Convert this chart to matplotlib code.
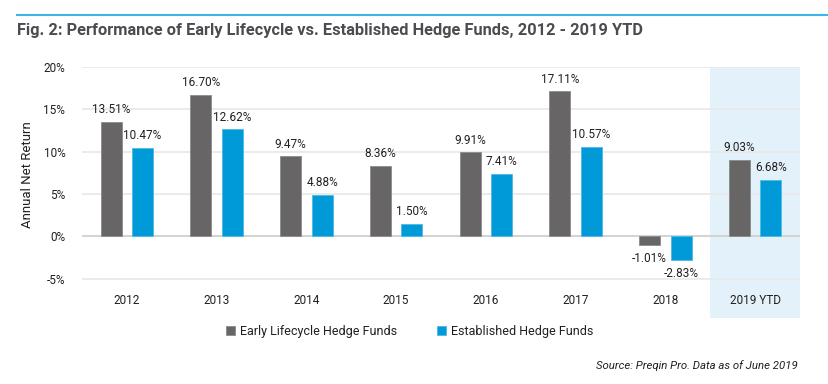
import matplotlib
matplotlib.use("Agg")
import matplotlib.pyplot as plt
import matplotlib.transforms as mtransforms
from matplotlib.patches import Rectangle
import numpy as np

plt.rcParams['font.family'] = ['Roboto', 'DejaVu Sans']

categories = ["2012", "2013", "2014", "2015", "2016", "2017", "2018", "2019 YTD"]
early = [13.51, 16.70, 9.47, 8.36, 9.91, 17.11, -1.01, 9.03]
established = [10.47, 12.62, 4.88, 1.50, 7.41, 10.57, -2.83, 6.68]
series_names = ["Early Lifecycle Hedge Funds", "Established Hedge Funds"]
yticks = [-5, 0, 5, 10, 15, 20]
title = "Fig. 2: Performance of Early Lifecycle vs. Established Hedge Funds, 2012 - 2019 YTD"
ylabel = "Annual Net Return"
source = "Source: Preqin Pro. Data as of June 2019"

GRAY = "#676566"
BLUE = "#009ad9"
TEXT = "#231f20"

fig = plt.figure(figsize=(8.29, 3.84), dpi=100)
W, H = 829, 384

# top rule and title
fig.add_artist(plt.Line2D([17 / W, 1.0], [1 - 15 / H, 1 - 15 / H], color="#3cb6e8", lw=1.5))
fig.text(17 / W, 1 - 31 / H, title, fontsize=11.8, fontweight="bold", color="#4a4c50",
         va="center", ha="left")

ax = fig.add_axes([82 / W, 1 - 282 / H, (800 - 82) / W, (282 - 67) / H])
x = np.arange(len(categories))
w = 0.235
off = 0.175
b1 = ax.bar(x - off, early, w, color=GRAY, edgecolor="#8c8a8b", linewidth=0.6, label=series_names[0], zorder=3)
b2 = ax.bar(x + off, established, w, color=BLUE, edgecolor="#4fb9e6", linewidth=0.6, label=series_names[1], zorder=3)

ax.set_xlim(-0.5, len(categories) - 0.5)
ax.set_ylim(-5.4, 20)
ax.set_yticks(yticks)
ax.set_yticklabels([f"{t}%" for t in yticks])
ax.set_xticks(x)
ax.set_xticklabels(categories)
ax.tick_params(axis="both", length=0, labelsize=8.5, labelcolor=TEXT)
ax.tick_params(axis="x", pad=9)
ax.tick_params(axis="y", pad=12)
for s in ax.spines.values():
    s.set_visible(False)
ax.yaxis.grid(True, color="#e8e8e8", lw=1.2, zorder=0)
ax.axhline(0, color="#d4d4d4", lw=1.5, zorder=2)
ax.set_ylabel(ylabel, fontsize=9.5, color=TEXT, labelpad=7)

# highlight last category
trans = mtransforms.blended_transform_factory(ax.transData, ax.transData)
ax.add_patch(Rectangle((len(categories) - 1.5, -9.6), 1.0, 29.6, transform=trans,
                       facecolor="#e3f2fa", edgecolor="none", zorder=0.5, clip_on=False))

for bars, vals in ((b1, early), (b2, established)):
    for bar, v in zip(bars, vals):
        cx = bar.get_x() + bar.get_width() / 2
        if v >= 0:
            ax.annotate(f"{v:.2f}%", (cx, v), xytext=(0, 4), textcoords="offset points",
                        ha="center", va="bottom", fontsize=8.5, color=TEXT, zorder=4)
        else:
            ax.annotate(f"{v:.2f}%", (cx, v), xytext=(0, -5), textcoords="offset points",
                        ha="center", va="top", fontsize=8.5, color=TEXT, zorder=4)

fig.legend(handles=[b1, b2], labels=series_names, loc="center", bbox_to_anchor=(410 / W, 1 - 331 / H),
           ncol=2, frameon=False, fontsize=9, handlelength=0.7, handleheight=0.7,
           columnspacing=3.2, handletextpad=0.4, labelcolor=TEXT)

fig.text(798 / W, 1 - 366 / H, source, fontsize=8.2, style="italic", color=TEXT, ha="right", va="center")

fig.savefig("out.png", dpi=100)
